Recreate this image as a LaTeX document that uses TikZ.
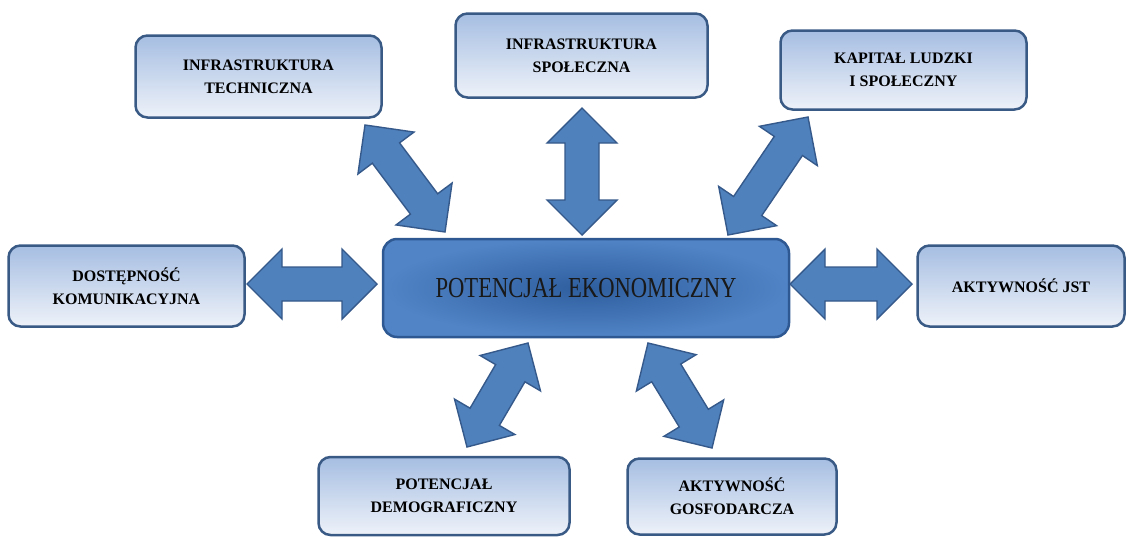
\documentclass[tikz,border=0pt]{standalone}
\usepackage{fontspec}
\setmainfont{Liberation Serif}
\usepackage{graphicx}
\usetikzlibrary{calc}
\definecolor{boxborder}{HTML}{3A5A86}
\definecolor{boxtop}{HTML}{A6BEE2}
\definecolor{boxbot}{HTML}{EEF2F9}
\definecolor{arrfill}{HTML}{4F81BD}
\definecolor{arrdraw}{HTML}{35598A}
\definecolor{cenout}{HTML}{5084C6}
\definecolor{cenin}{HTML}{2F5E9E}
\definecolor{cenborder}{HTML}{2E5891}
\tikzset{
  boxnode/.style={draw=boxborder, line width=2.5pt, rounded corners=12pt,
    top color=boxtop, bottom color=boxbot, align=center, text=black,
    font=\bfseries\fontsize{16}{23}\selectfont, inner sep=0pt},
  cennode/.style={draw=cenborder, line width=2.5pt, rounded corners=14pt,
    inner color=cenin, outer color=cenout, align=center, text=black!90,
    font=\fontsize{29}{32}\selectfont, inner sep=0pt},
  arrshape/.style={fill=arrfill, draw=arrdraw, line width=1.4pt, line join=miter}
}
\newcommand\dblarr[2]{%
  \coordinate (dA) at (#1);
  \coordinate (dB) at (#2);
  \coordinate (dP) at ($(dA)!35pt!(dB)$);
  \coordinate (dQ) at ($(dB)!35pt!(dA)$);
  \draw[arrshape] (dA) -- ($(dP)!35pt!90:(dB)$) -- ($(dP)!17pt!90:(dB)$)
    -- ($(dQ)!17pt!-90:(dA)$) -- ($(dQ)!35pt!-90:(dA)$) -- (dB)
    -- ($(dQ)!35pt!90:(dA)$) -- ($(dQ)!17pt!90:(dA)$)
    -- ($(dP)!17pt!-90:(dB)$) -- ($(dP)!35pt!-90:(dB)$) -- cycle;
}
\begin{document}
\begin{tikzpicture}[x=1pt,y=-1pt]
\useasboundingbox (0,0) rectangle (1127,536);

\node[cennode, minimum width=406pt, minimum height=98pt] (cen) at (586,288)
  {\scalebox{0.78}[1]{POTENCJAŁ EKONOMICZNY}};

\node[boxnode, minimum width=246pt, minimum height=82pt] (tech) at (258.5,76.5)
  {INFRASTRUKTURA\\TECHNICZNA};
\node[boxnode, minimum width=252pt, minimum height=84pt] (spol) at (581.5,55.5)
  {INFRASTRUKTURA\\SPOŁECZNA};
\node[boxnode, minimum width=246pt, minimum height=79pt] (kap) at (903.5,70)
  {KAPITAŁ LUDZKI\\I SPOŁECZNY};
\node[boxnode, minimum width=236pt, minimum height=81pt] (dost) at (126.5,286)
  {DOSTĘPNOŚĆ\\KOMUNIKACYJNA};
\node[boxnode, minimum width=207pt, minimum height=81pt] (jst) at (1021,286)
  {AKTYWNOŚĆ JST};
\node[boxnode, minimum width=251pt, minimum height=78pt] (demo) at (444,496)
  {POTENCJAŁ\\DEMOGRAFICZNY};
\node[boxnode, minimum width=209pt, minimum height=76pt] (gosp) at (732,496.5)
  {AKTYWNOŚĆ\\GOSFODARCZA};

% connector end points
\coordinate (t1) at (365,125);  \coordinate (t2) at (445,232);
\coordinate (s1) at (582,108);  \coordinate (s2) at (582,235);
\coordinate (k1) at (808,117);  \coordinate (k2) at (728,235);
\coordinate (d1) at (247,284);  \coordinate (d2) at (377,284);
\coordinate (j1) at (790,284);  \coordinate (j2) at (912,284);
\coordinate (p1) at (528,343);  \coordinate (p2) at (467,447);
\coordinate (g1) at (648,343);  \coordinate (g2) at (712,448);

\dblarr{t1}{t2}
\dblarr{s1}{s2}
\dblarr{k1}{k2}
\dblarr{d1}{d2}
\dblarr{j1}{j2}
\dblarr{p1}{p2}
\dblarr{g1}{g2}
\end{tikzpicture}
\end{document}
